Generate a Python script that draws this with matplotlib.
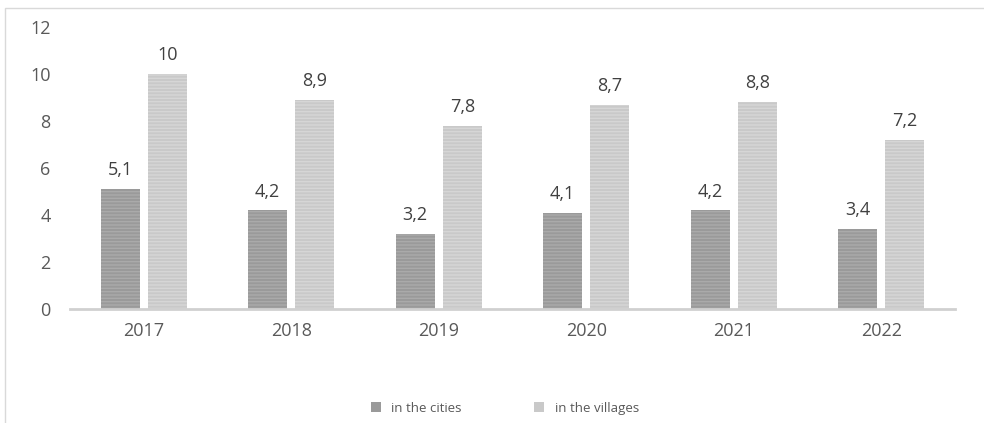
import matplotlib
matplotlib.use("Agg")
import matplotlib.pyplot as plt
from matplotlib.patches import Rectangle, Patch
import numpy as np

years = ["2017", "2018", "2019", "2020", "2021", "2022"]
cities = [5.1, 4.2, 3.2, 4.1, 4.2, 3.4]
villages = [10, 8.9, 7.8, 8.7, 8.8, 7.2]
series_names = ["in the cities", "in the villages"]

plt.rcParams['font.family'] = ['Open Sans', 'DejaVu Sans']
plt.rcParams['hatch.linewidth'] = 1.0

fig = plt.figure(figsize=(9.84, 4.23), dpi=100)
ax = fig.add_axes([70/984, 1-309/423, 885/984, 282/423])

x = np.arange(len(years))
w = 0.265
off = 0.16
c1, h1 = "#9a9a9a", "#aaaaaa"
c2, h2 = "#c9c9c9", "#d6d6d6"
b1 = ax.bar(x - off, cities, w, color=c1, edgecolor=h1, linewidth=0, hatch="-----", zorder=2)
b2 = ax.bar(x + off, villages, w, color=c2, edgecolor=h2, linewidth=0, hatch="-----", zorder=2)

def fmt(v):
    s = ("%g" % v).replace(".", ",")
    return s

for bars, vals in ((b1, cities), (b2, villages)):
    for r, v in zip(bars, vals):
        ax.annotate(fmt(v), (r.get_x() + r.get_width()/2, v), xytext=(0, 7),
                    textcoords="offset points", ha="center", va="bottom",
                    fontsize=13, color="#404040")

ax.set_xlim(-0.5, len(years) - 0.5)
ax.set_ylim(0, 12)
ax.set_yticks(range(0, 13, 2))
ax.set_xticks(x)
ax.set_xticklabels(years)
for s in ["top", "right", "left"]:
    ax.spines[s].set_visible(False)
ax.spines["bottom"].set_color("#d0d0d0")
ax.spines["bottom"].set_linewidth(2)
ax.tick_params(axis="both", length=0, labelsize=13, labelcolor="#595959")
ax.tick_params(axis="y", pad=14)
ax.tick_params(axis="x", pad=9)

handles = [Patch(facecolor=c1, edgecolor="none"), Patch(facecolor=c2, edgecolor="none")]
fig.legend(handles, series_names, loc="center", bbox_to_anchor=(505/984, 1-408/423),
           ncol=2, frameon=False, fontsize=9.5, handlelength=0.75, handleheight=0.75,
           columnspacing=5.5, labelcolor="#595959")

# outer border
fig.add_artist(Rectangle((5/984, -0.1), 1.1, 1 - 8/423 + 0.1, transform=fig.transFigure,
                         fill=False, edgecolor="#d9d9d9", linewidth=1))

fig.savefig("out.png", dpi=100)
